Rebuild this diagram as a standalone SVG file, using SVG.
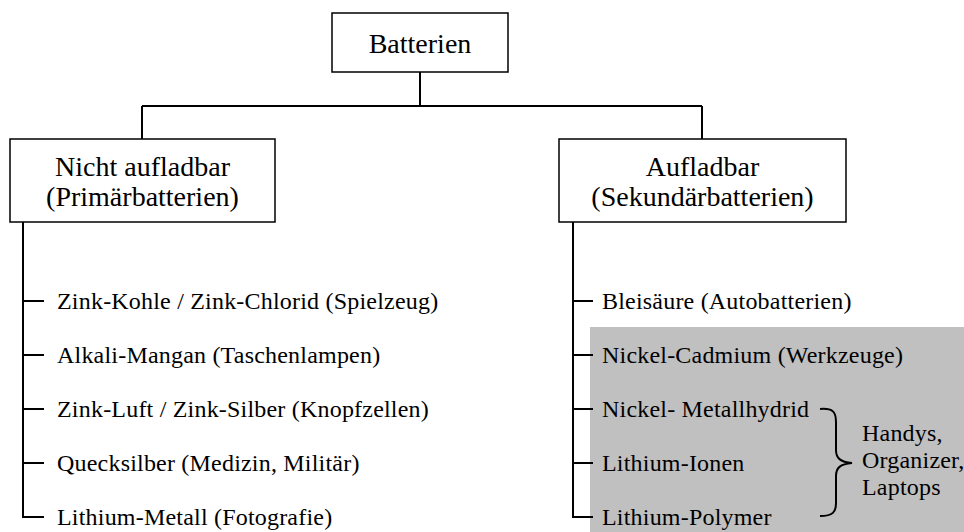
<svg xmlns="http://www.w3.org/2000/svg" width="964" height="532" viewBox="0 0 964 532" font-family="'Liberation Serif', 'Times New Roman', Times, serif">
<style>
.box{fill:#fff;stroke:#000;stroke-width:1.5}
.ln{fill:none;stroke:#000;stroke-width:2}
text{font-family:"Liberation Serif","Times New Roman",Times,serif;fill:#000}
.h{font-size:28px;text-anchor:middle}
.i{font-size:24px;letter-spacing:0.2px}
</style>
<rect x="590" y="327" width="374" height="205" fill="#c0c0c0"/>
<g id="connectors">
<path class="ln" d="M420 72V106M142 106H702M142 106V139M702 106V139"/>
<path class="ln" d="M23 222V517H44M23 301H44M23 355H44M23 409H44M23 463H44"/>
<path class="ln" d="M573 222V517H593M573 301H593M573 355H593M573 409H593M573 463H593"/>
<path class="ln" d="M820 409C833 408 836 412 836 422V450C836 458 840 462 852 463C840 464 836 468 836 476V503C836 512 833 516 820 516"/>
</g>
<g id="batterien">
<rect class="box" x="332" y="13" width="176" height="59"/>
<text class="h" x="420" y="53">Batterien</text>
</g>
<g id="primaer">
<rect class="box" x="10" y="139" width="265" height="83"/>
<text class="h" x="142.5" y="176">Nicht aufladbar</text>
<text class="h" x="142.5" y="206">(Primärbatterien)</text>
</g>
<g id="sekundaer">
<rect class="box" x="559" y="139" width="287" height="83"/>
<text class="h" x="702.5" y="176">Aufladbar</text>
<text class="h" x="702.5" y="206">(Sekundärbatterien)</text>
</g>
<g id="items-left" class="i">
<text x="57" y="309">Zink-Kohle / Zink-Chlorid (Spielzeug)</text>
<text x="57" y="363">Alkali-Mangan (Taschenlampen)</text>
<text x="57" y="417">Zink-Luft / Zink-Silber (Knopfzellen)</text>
<text x="57" y="471">Quecksilber (Medizin, Militär)</text>
<text x="57" y="525">Lithium-Metall (Fotografie)</text>
</g>
<g id="items-right" class="i">
<text x="602" y="309">Bleisäure (Autobatterien)</text>
<text x="602" y="363">Nickel-Cadmium (Werkzeuge)</text>
<text x="602" y="417">Nickel- Metallhydrid</text>
<text x="602" y="471">Lithium-Ionen</text>
<text x="602" y="525">Lithium-Polymer</text>
</g>
<g id="uses" class="i">
<text x="862" y="441">Handys,</text>
<text x="862" y="468">Organizer,</text>
<text x="862" y="495">Laptops</text>
</g>
</svg>
